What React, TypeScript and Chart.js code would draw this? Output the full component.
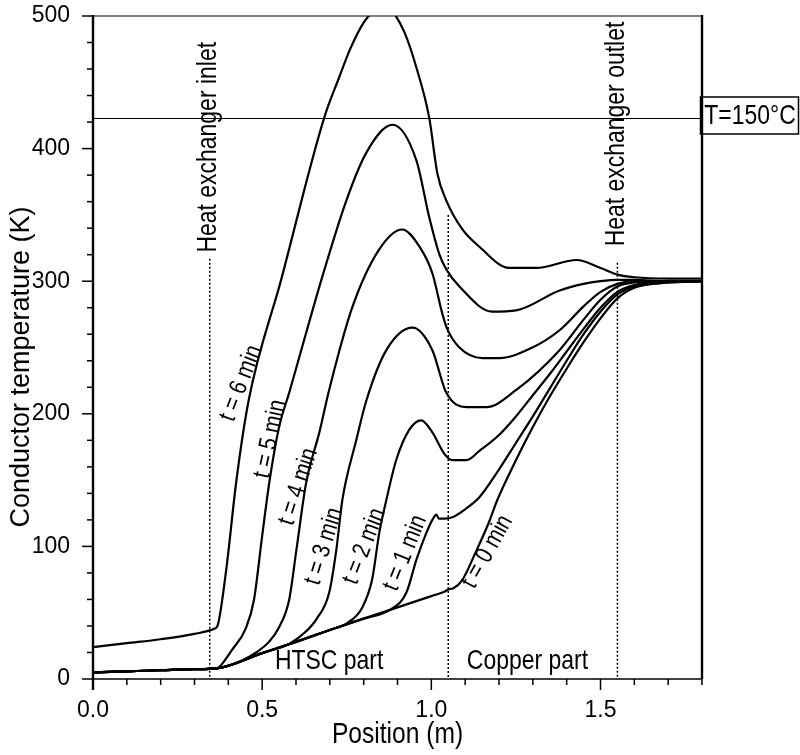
import { useEffect, useRef } from 'react';
import { Chart, registerables } from 'chart.js';

Chart.register(...registerables);

type Pt = [number, number];

const xTickLabels = ['0.0', '0.5', '1.0', '1.5'];
const yTickLabels = ['0', '100', '200', '300', '400', '500'];
const xTitle = 'Position (m)';
const yTitle = 'Conductor temperature (K)';

const t0: Pt[] = [[0,5],[0.1,5.8],[0.2,6.6],[0.3,7.4],[0.365,8],[0.5,19.5],[0.6,28],[0.7,37],[0.8,45.5],[0.9,54],[1.0,62.5],[1.04,66],[1.05,67.5],[1.065,68.5],[1.09,74],[1.13,95],[1.17,118],[1.195,135],[1.25,165],[1.3,190],[1.35,213],[1.4,234],[1.45,254],[1.5,272],[1.55,287],[1.6,295],[1.7,299],[1.8,300]];
const t1: Pt[] = [[0,5],[0.1,5.8],[0.2,6.6],[0.3,7.4],[0.365,8],[0.5,19.5],[0.6,28],[0.7,37],[0.8,45.5],[0.88,52.5],[0.926,65],[0.956,90],[0.985,110],[1.003,120],[1.015,124],[1.022,121],[1.04,121],[1.062,122],[1.1,128],[1.142,137],[1.2,158],[1.25,178],[1.3,198],[1.35,219],[1.4,240],[1.45,260],[1.5,277],[1.55,290],[1.6,296],[1.7,299],[1.8,300]];
const t2: Pt[] = [[0,5],[0.1,5.8],[0.2,6.6],[0.3,7.4],[0.365,8],[0.5,19.5],[0.6,28],[0.7,37],[0.75,42],[0.796,54],[0.825,75],[0.846,110],[0.867,135],[0.896,165],[0.935,188],[0.97,195],[1.003,186],[1.038,170],[1.062,165],[1.104,165],[1.142,172],[1.2,184],[1.25,198],[1.3,214],[1.35,230],[1.4,247],[1.45,264],[1.5,280],[1.55,292],[1.6,297],[1.7,300],[1.8,300]];
const t3: Pt[] = [[0,5],[0.1,5.8],[0.2,6.6],[0.3,7.4],[0.365,8],[0.5,19.5],[0.58,26.5],[0.63,36],[0.66,45],[0.698,65],[0.719,97],[0.737,135],[0.778,180],[0.808,210],[0.867,248],[0.944,265],[1.003,248],[1.044,216],[1.104,205],[1.163,205],[1.251,218],[1.379,248],[1.45,271],[1.5,286],[1.55,296],[1.6,299],[1.7,300],[1.8,300]];
const t4: Pt[] = [[0,5],[0.1,5.8],[0.2,6.6],[0.3,7.4],[0.365,8],[0.44,14],[0.482,20],[0.52,28],[0.55,39],[0.58,60],[0.601,97],[0.63,148],[0.669,186],[0.698,218],[0.766,280],[0.846,324],[0.914,339],[0.965,326],[1.003,306],[1.033,275],[1.047,264],[1.083,250],[1.151,242],[1.201,242],[1.299,250],[1.379,263],[1.45,281],[1.5,292],[1.55,298],[1.6,300],[1.7,300],[1.8,300]];
const t5: Pt[] = [[0,5],[0.1,5.8],[0.2,6.6],[0.3,7.4],[0.365,8],[0.373,9],[0.411,22],[0.453,39],[0.476,60],[0.5,108],[0.521,148],[0.55,190],[0.58,216],[0.675,301],[0.749,361],[0.808,397],[0.885,418],[0.956,391],[0.994,348],[1.024,320],[1.044,309],[1.083,296],[1.18,277],[1.251,278],[1.379,293],[1.45,298],[1.5,300],[1.55,301],[1.6,301],[1.7,300],[1.8,300]];
const t6: Pt[] = [[0,24],[0.1,27],[0.2,30],[0.3,34],[0.36,38],[0.368,40],[0.395,85],[0.423,148],[0.46,210],[0.556,301],[0.683,423],[0.728,454],[0.76,475],[0.8,495],[0.84,506],[0.86,508],[0.88,505],[0.92,488],[0.956,461],[0.994,423],[1.018,381],[1.044,361],[1.092,339],[1.142,326],[1.23,310],[1.31,310],[1.43,316],[1.5,310],[1.55,305],[1.6,303],[1.7,302],[1.8,302]];

const seriesData: Pt[][] = [t0, t1, t2, t3, t4, t5, t6];
const seriesLabels = ['t = 0 min', 't = 1 min', 't = 2 min', 't = 3 min', 't = 4 min', 't = 5 min', 't = 6 min'];

// where the curve names sit (data units) and their slant
const curveLabelX = [1.166, 0.923, 0.802, 0.683, 0.607, 0.524, 0.438];
const curveLabelY = [96, 95, 100, 100, 145, 181, 223];
const curveLabelAngle = [-61, -68, -69, -73, -72, -78, -69];

const markerX = [0.345, 1.05, 1.55];
const markerTop = [317, 350, 314];
const markerNames = ['Heat exchanger inlet', '', 'Heat exchanger outlet'];
const markerNameY = [401, 0, 411];

const limitTemp = 423.15;
const limitLabel = 'T=150°C';
const regionLabels = ['HTSC part', 'Copper part'];
const regionLabelX = [0.698, 1.284];
const regionLabelY = 13;

const FONT = '"Liberation Sans", Arial, sans-serif';
const SQUEEZE = 0.82;

const decor = {
  id: 'decor',
  afterDatasetsDraw(chart: any) {
    const { ctx, chartArea: a, scales } = chart;
    const x = scales.x;
    const y = scales.y;
    ctx.save();
    ctx.strokeStyle = '#000';
    ctx.fillStyle = '#000';
    const seg = (x1: number, y1: number, x2: number, y2: number) => {
      ctx.beginPath();
      ctx.moveTo(x1, y1);
      ctx.lineTo(x2, y2);
      ctx.stroke();
    };
    const txt = (s: string, px: number, py: number, size: number, deg = 0, sq = SQUEEZE) => {
      ctx.save();
      ctx.translate(px, py);
      ctx.rotate((deg * Math.PI) / 180);
      ctx.scale(sq, 1);
      ctx.font = `${size}px ${FONT}`;
      ctx.textAlign = 'center';
      ctx.textBaseline = 'middle';
      ctx.fillText(s, 0, 0);
      ctx.restore();
    };
    // limit line
    const yl = Math.round(y.getPixelForValue(limitTemp)) + 0.5;
    ctx.lineWidth = 1.2;
    seg(a.left, yl, a.right, yl);
    // dotted verticals
    ctx.setLineDash([2, 2]);
    ctx.lineWidth = 1.5;
    markerX.forEach((mx, i) => {
      const px = x.getPixelForValue(mx);
      seg(px, y.getPixelForValue(markerTop[i]), px, a.bottom);
    });
    ctx.setLineDash([]);
    // frame
    ctx.lineWidth = 1.2;
    seg(a.left, a.top, a.right, a.top);
    ctx.lineWidth = 1.6;
    seg(a.left, a.bottom, a.right, a.bottom);
    ctx.lineWidth = 2.4;
    seg(a.left, a.top - 1, a.left, a.bottom + 11);
    seg(a.right, a.top - 1, a.right, a.bottom);
    // ticks
    ctx.lineWidth = 1.5;
    x.ticks.forEach((t: any) => {
      const px = x.getPixelForValue(t.value);
      const r = Math.round(t.value * 10);
      const major = r % 5 === 0;
      seg(px, a.bottom, px, a.bottom + (major ? 11 : 6));
    });
    y.ticks.forEach((t: any) => {
      const py = y.getPixelForValue(t.value);
      const major = Math.round(t.value) % 100 === 0;
      seg(a.left - (major ? 11 : 6), py, a.left, py);
    });
    // limit box
    ctx.lineWidth = 1.5;
    ctx.strokeRect(a.right - 1.5, yl - 21.5, 98, 37);
    txt(limitLabel, a.right + 48, yl - 2, 28);
    // region labels
    regionLabels.forEach((s, i) => {
      txt(s, x.getPixelForValue(regionLabelX[i]), y.getPixelForValue(regionLabelY), 28);
    });
    // marker names
    markerNames.forEach((s, i) => {
      if (!s) return;
      txt(s, x.getPixelForValue(markerX[i]) - 1, y.getPixelForValue(markerNameY[i]), 28, -90);
    });
    // curve names
    seriesLabels.forEach((s, i) => {
      txt(s, x.getPixelForValue(curveLabelX[i]), y.getPixelForValue(curveLabelY[i]), 25, curveLabelAngle[i]);
    });
    // axis titles
    txt(xTitle, (a.left + a.right) / 2, 735, 30);
    txt(yTitle, 22, 367, 27, -90, 1);
    ctx.restore();
  },
};

export default function App() {
  const ref = useRef<HTMLCanvasElement>(null);
  useEffect(() => {
    if (!ref.current) return;
    const chart = new Chart(ref.current, {
      type: 'line',
      data: {
        datasets: seriesData.map((d, i) => ({
          label: seriesLabels[i],
          data: d.map(([px, py]) => ({ x: px, y: py })),
          borderColor: '#000',
          borderWidth: 2.2,
          pointRadius: 0,
          fill: false,
          cubicInterpolationMode: 'monotone' as const,
        })),
      },
      options: {
        animation: false,
        responsive: false,
        devicePixelRatio: 1,
        layout: { padding: { left: 0, right: 98, top: 16, bottom: 0 } },
        plugins: { legend: { display: false }, tooltip: { enabled: false } },
        scales: {
          x: {
            type: 'linear',
            min: 0,
            max: 1.8,
            afterFit: (s: any) => { s.height = 76; s.paddingLeft = 0; s.paddingRight = 0; },
            grid: { display: false },
            border: { display: false },
            ticks: {
              stepSize: 0.1,
              autoSkip: false,
              maxRotation: 0,
              padding: 10,
              color: '#000',
              font: { family: FONT, size: 23 },
              callback: (v: any) => {
                const s = (Math.round(Number(v) * 10) / 10).toFixed(1);
                return xTickLabels.includes(s) ? s : '';
              },
            },
          },
          y: {
            type: 'linear',
            min: 0,
            max: 500,
            afterFit: (s: any) => { s.width = 93; s.paddingTop = 0; s.paddingBottom = 0; },
            grid: { display: false },
            border: { display: false },
            ticks: {
              stepSize: 20,
              autoSkip: false,
              padding: 15,
              color: '#000',
              font: { family: FONT, size: 23 },
              callback: (v: any) => {
                const s = String(Math.round(Number(v)));
                return yTickLabels.includes(s) ? s : '';
              },
            },
          },
        },
      },
      plugins: [decor],
    });
    return () => chart.destroy();
  }, []);
  return (
    <div style={{ position: 'fixed', left: 0, top: 0, width: 800, height: 755, background: '#fff' }}>
      <canvas ref={ref} width={800} height={755} style={{ display: 'block' }} />
    </div>
  );
}
